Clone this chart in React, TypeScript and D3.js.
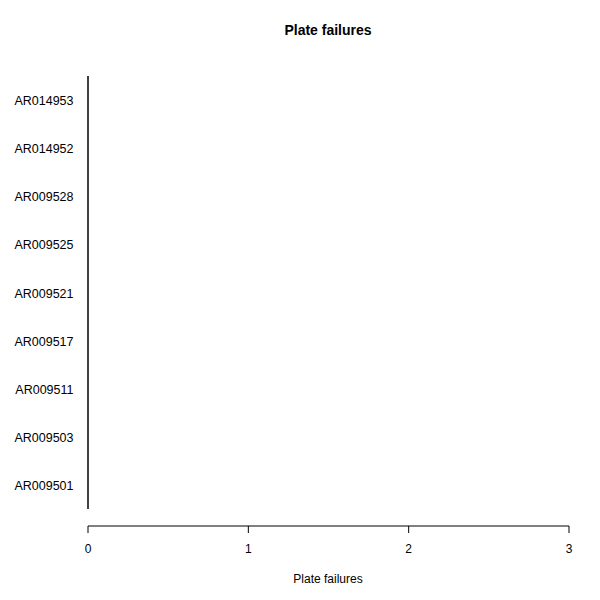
import React from 'react';
import * as d3 from 'd3';

const plates = ['AR009501', 'AR009503', 'AR009511', 'AR009517', 'AR009521', 'AR009525', 'AR009528', 'AR014952', 'AR014953'];
const failures = [0, 0, 0, 0, 0, 0, 0, 0, 0];
const xTicks = [0, 1, 2, 3];

const App: React.FC = () => {
  const x = d3.scaleLinear().domain([0, 3]).range([88, 569]);
  const y = d3.scaleBand<string>().domain([...plates].reverse()).range([76, 509]).padding(0);
  const font = 'Liberation Sans, Arial, sans-serif';

  return (
    <svg width={600} height={600} style={{ position: 'absolute', left: 0, top: 0 }} fontFamily={font}>
      <rect width={600} height={600} fill="#fff" />
      <text x={328} y={35} textAnchor="middle" fontWeight="bold" fontSize={14}>Plate failures</text>
      {/* zero-width bars */}
      <line x1={x(0)} x2={x(0)} y1={y.range()[0]} y2={y.range()[1]} stroke="#000" strokeWidth={1.5} />
      {plates.map((p, i) => (
        <g key={p}>
          <rect x={x(0)} y={y(p)!} width={x(failures[i]) - x(0)} height={y.bandwidth()} fill="#bebebe" />
          <text x={73.5} y={y(p)! + y.bandwidth() / 2 + 5} textAnchor="end" fontSize={12.5}>{p}</text>
        </g>
      ))}
      <line x1={x(0)} x2={x(3)} y1={526} y2={526} stroke="#000" />
      {xTicks.map(t => (
        <g key={t}>
          <line x1={x(t)} x2={x(t)} y1={526} y2={533} stroke="#000" />
          <text x={x(t)} y={553} textAnchor="middle" fontSize={12}>{t}</text>
        </g>
      ))}
      <text x={328} y={583} textAnchor="middle" fontSize={12}>Plate failures</text>
    </svg>
  );
};

export default App;
